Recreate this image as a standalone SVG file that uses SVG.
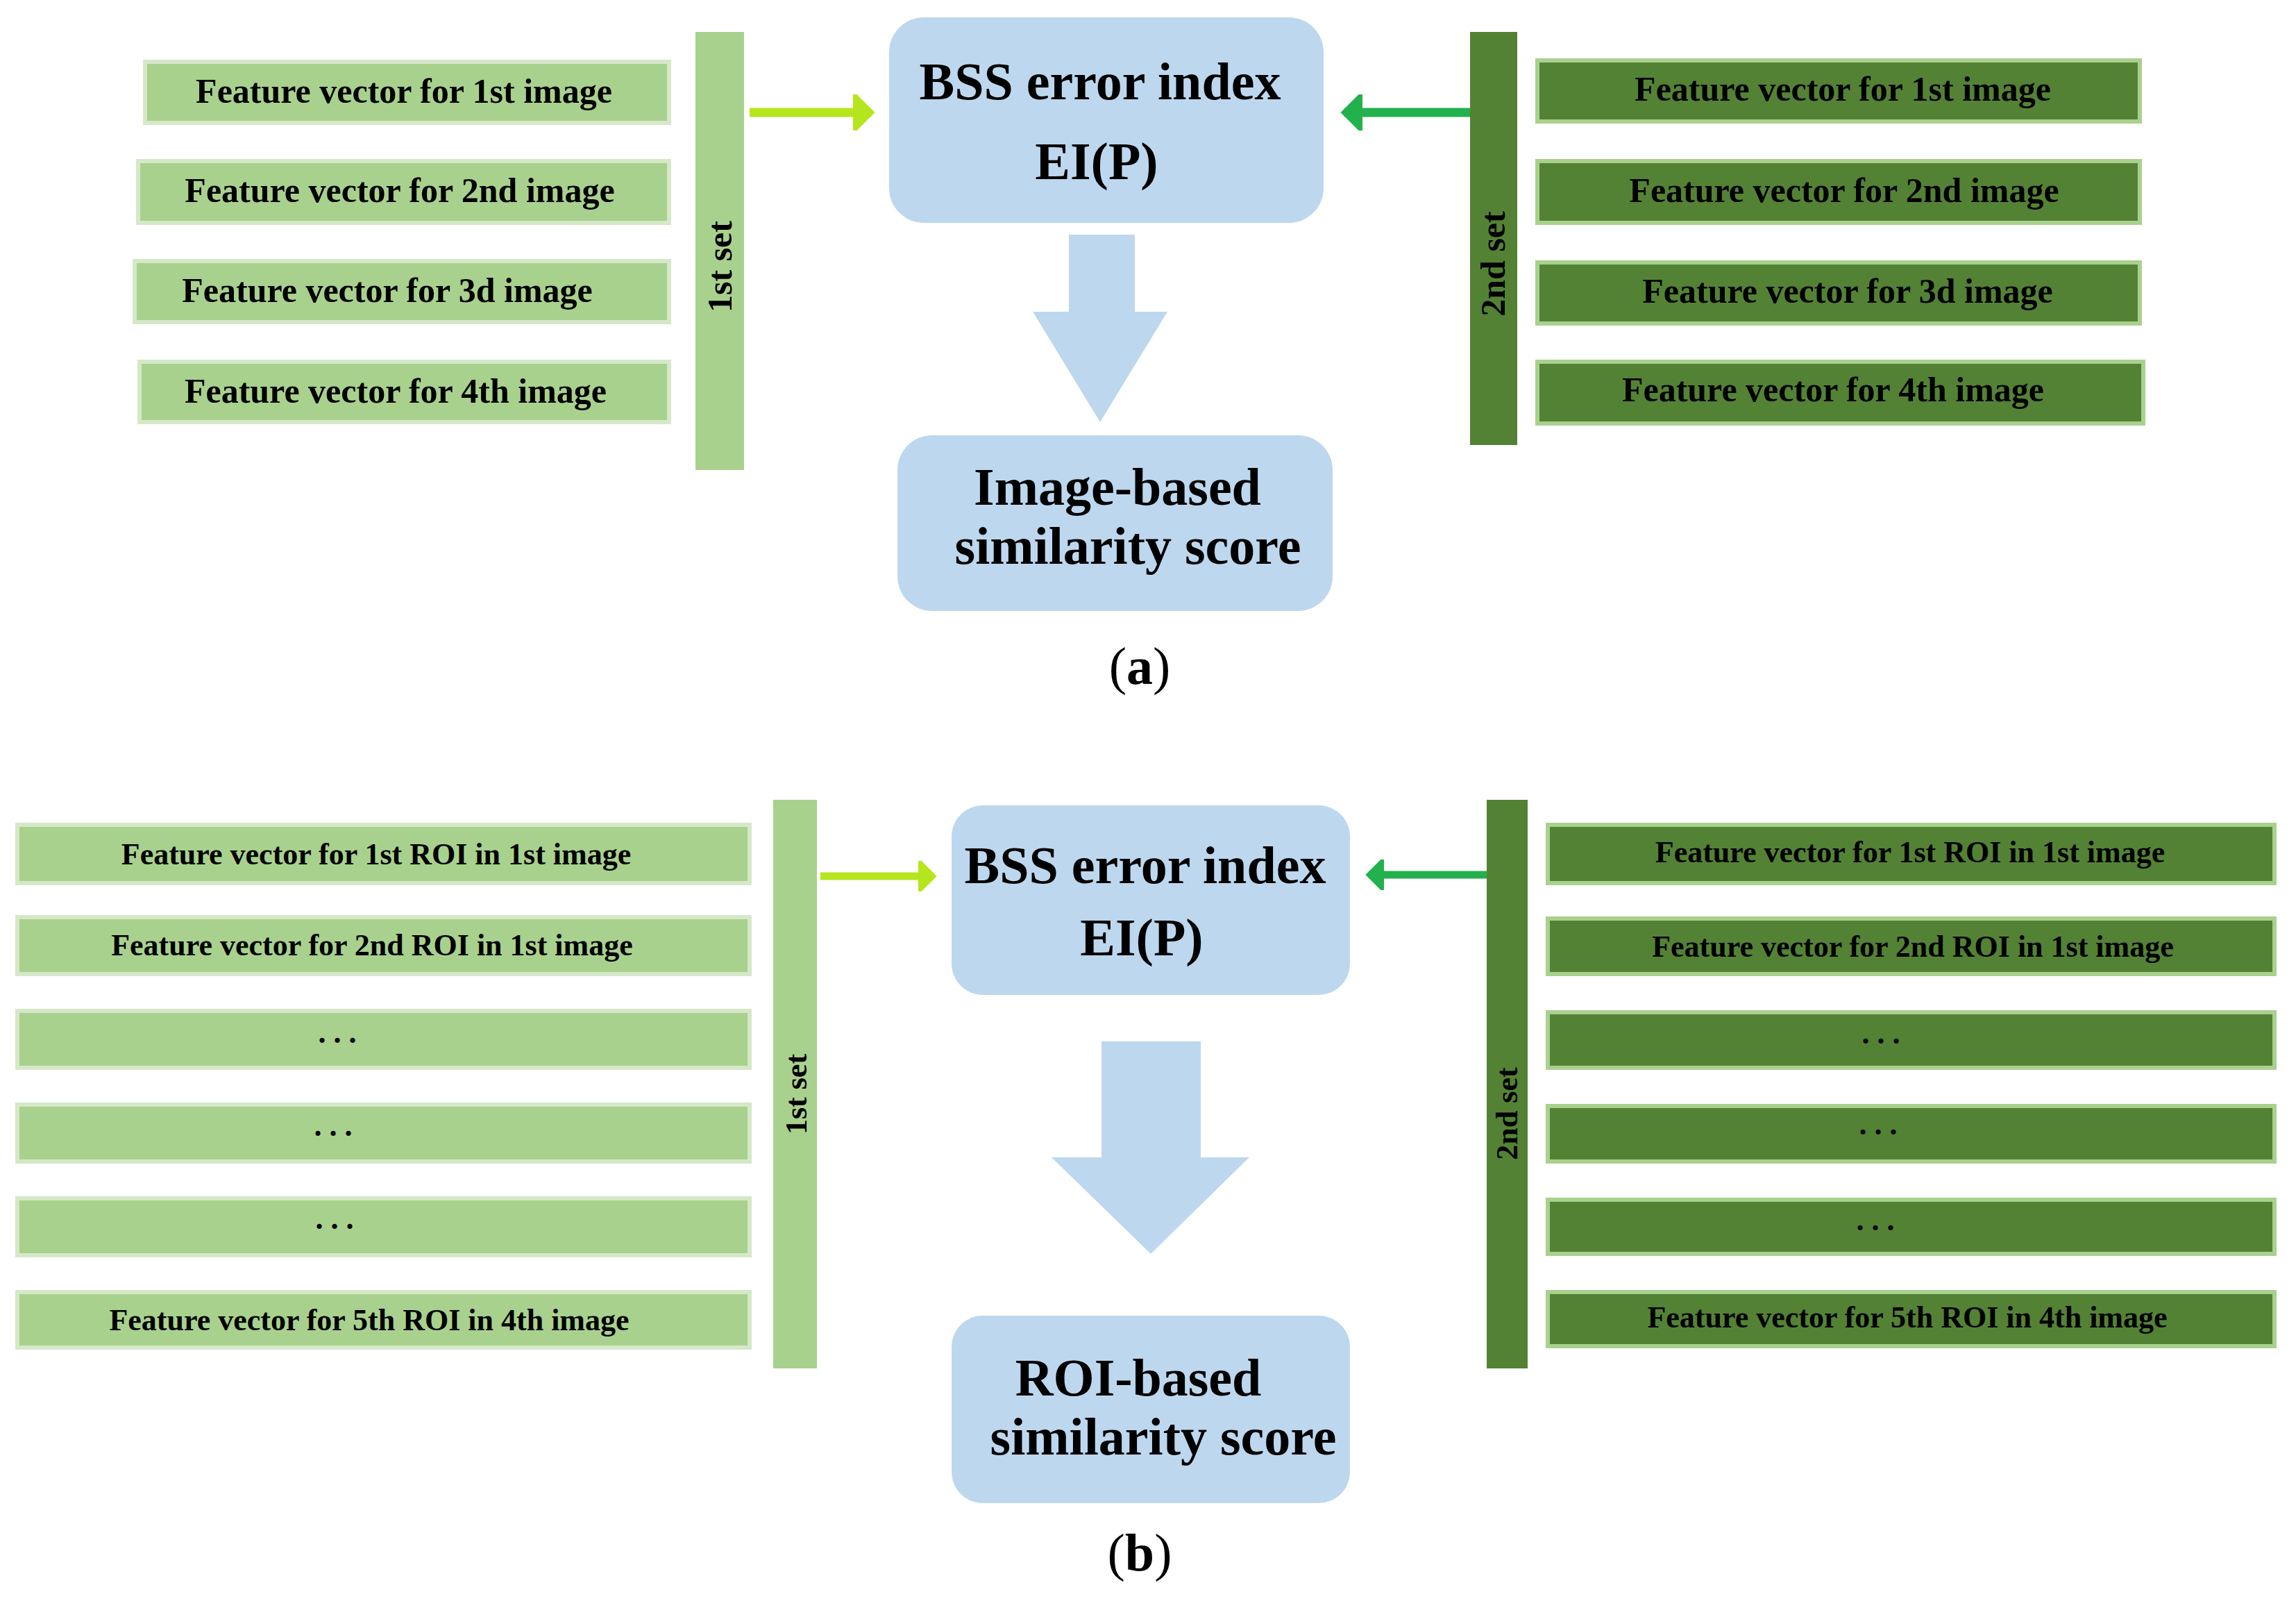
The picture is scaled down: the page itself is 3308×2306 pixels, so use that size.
<svg xmlns="http://www.w3.org/2000/svg" width="3308" height="2306" viewBox="0 0 3308 2306">
<style>
.lg{fill:#a9d18e;stroke:#d5e8c8;stroke-width:6}
.dg{fill:#548235;stroke:#a9d18e;stroke-width:6}
.bar1{fill:#a9d18e}
.bar2{fill:#548235}
.blue{fill:#bdd7ee}
text{font-family:"Liberation Serif",serif;font-weight:bold;fill:#000;text-anchor:middle}
.ta{font-size:50px}
.tb{font-size:44px}
.big{font-size:76px}
.lab{font-size:76px;font-weight:normal}
</style>
<defs>
<marker id="ml" markerWidth="4" markerHeight="4" refX="2" refY="2" orient="auto" markerUnits="strokeWidth"><path d="M0,0 L2,2 L0,4 Z" fill="#b5e61d" stroke="#b5e61d" stroke-width="0.6"/></marker>
<marker id="mg" markerWidth="4" markerHeight="4" refX="2" refY="2" orient="auto" markerUnits="strokeWidth"><path d="M0,0 L2,2 L0,4 Z" fill="#22b14c" stroke="#22b14c" stroke-width="0.6"/></marker>
</defs>

<g id="a-left">
<rect class="lg" x="209" y="89" width="755" height="88"/><text class="ta" x="582" y="148">Feature vector for  1st image</text>
<rect class="lg" x="199" y="232" width="765" height="89"/><text class="ta" x="576" y="291">Feature vector for 2nd image</text>
<rect class="lg" x="194" y="376" width="770" height="88"/><text class="ta" x="558" y="435">Feature vector for  3d image</text>
<rect class="lg" x="201" y="521" width="763" height="87"/><text class="ta" x="570" y="580">Feature vector for  4th image</text>
</g>
<g id="a-set1"><rect class="bar1" x="1002" y="46" width="70" height="631"/><text class="ta" transform="translate(1054,384) rotate(-90)">1st set</text></g>
<g id="a-bss"><rect class="blue" x="1281" y="25" width="626" height="296" rx="50"/><text class="big" x="1585" y="143">BSS error index</text><text class="big" x="1580" y="258">EI(P)</text></g>
<g id="a-score"><rect class="blue" x="1293" y="627" width="627" height="253" rx="50"/><text class="big" x="1610" y="727">Image-based</text><text class="big" x="1625" y="812">similarity score</text></g>
<g id="a-set2"><rect class="bar2" x="2118" y="46" width="68" height="595"/><text class="ta" transform="translate(2168,380) rotate(-90)">2nd set</text></g>
<g id="a-right">
<rect class="dg" x="2215" y="87" width="868" height="88"/><text class="ta" x="2655" y="145">Feature vector for  1st image</text>
<rect class="dg" x="2215" y="232" width="868" height="89"/><text class="ta" x="2657" y="291">Feature vector for 2nd  image</text>
<rect class="dg" x="2215" y="378" width="868" height="88"/><text class="ta" x="2662" y="436">Feature vector for  3d   image</text>
<rect class="dg" x="2215" y="521" width="873" height="89"/><text class="ta" x="2641" y="578">Feature vector for  4th image</text>
</g>
<g id="a-label"><text class="lab" x="1642" y="985">(<tspan font-weight="bold">a</tspan>)</text></g>

<g id="b-left">
<rect class="lg" x="25" y="1188" width="1055" height="84"/><text class="tb" x="542" y="1245">Feature vector for 1st ROI in 1st image</text>
<rect class="lg" x="25" y="1321" width="1055" height="82"/><text class="tb" x="536" y="1376">Feature vector for 2nd ROI in 1st image</text>
<rect class="lg" x="25" y="1456" width="1055" height="82"/><text class="tb" x="486" y="1502">. . .</text>
<rect class="lg" x="25" y="1591" width="1055" height="82"/><text class="tb" x="480" y="1636">. . .</text>
<rect class="lg" x="25" y="1726" width="1055" height="82"/><text class="tb" x="482" y="1770">. . .</text>
<rect class="lg" x="25" y="1861" width="1055" height="80"/><text class="tb" x="532" y="1916">Feature vector for 5th ROI in 4th image</text>
</g>
<g id="b-set1"><rect class="bar1" x="1114" y="1152" width="63" height="819"/><text class="tb" transform="translate(1162,1576) rotate(-90)">1st set</text></g>
<g id="b-bss"><rect class="blue" x="1371" y="1160" width="574" height="273" rx="45"/><text class="big" x="1650" y="1272">BSS error index</text><text class="big" x="1645" y="1376">EI(P)</text></g>
<g id="b-score"><rect class="blue" x="1371" y="1895" width="574" height="270" rx="45"/><text class="big" x="1640" y="2010">ROI-based</text><text class="big" x="1676" y="2095">similarity score</text></g>
<g id="b-set2"><rect class="bar2" x="2142" y="1152" width="59" height="819"/><text class="tb" transform="translate(2186,1604) rotate(-90)">2nd set</text></g>
<g id="b-right">
<rect class="dg" x="2230" y="1188" width="1047" height="84"/><text class="tb" x="2752" y="1242">Feature vector for 1st ROI in 1st image</text>
<rect class="dg" x="2230" y="1323" width="1047" height="80"/><text class="tb" x="2756" y="1378">Feature vector for 2nd ROI in 1st image</text>
<rect class="dg" x="2230" y="1458" width="1047" height="80"/><text class="tb" x="2710" y="1503">. . .</text>
<rect class="dg" x="2230" y="1593" width="1047" height="80"/><text class="tb" x="2706" y="1634">. . .</text>
<rect class="dg" x="2230" y="1728" width="1047" height="78"/><text class="tb" x="2702" y="1772">. . .</text>
<rect class="dg" x="2230" y="1861" width="1047" height="78"/><text class="tb" x="2748" y="1912">Feature vector for 5th ROI in 4th image</text>
</g>
<g id="b-label"><text class="lab" x="1642" y="2262">(<tspan font-weight="bold">b</tspan>)</text></g>

<g id="connectors">
<line x1="1080" y1="162" x2="1255" y2="162" stroke="#b5e61d" stroke-width="13" marker-end="url(#ml)"/>
<line x1="2118" y1="162" x2="1937" y2="162" stroke="#22b14c" stroke-width="13" marker-end="url(#mg)"/>
<line x1="1182" y1="1262" x2="1345" y2="1262" stroke="#b5e61d" stroke-width="11" marker-end="url(#ml)"/>
<line x1="2142" y1="1260" x2="1972" y2="1260" stroke="#22b14c" stroke-width="11" marker-end="url(#mg)"/>
<path d="M1540,338 H1635 V449 H1682 L1585,608 L1488,449 H1540 Z" fill="#bdd7ee"/>
<path d="M1587,1500 H1730 V1667 H1800 L1658,1806 L1515,1667 H1587 Z" fill="#bdd7ee"/>
</g>
</svg>
